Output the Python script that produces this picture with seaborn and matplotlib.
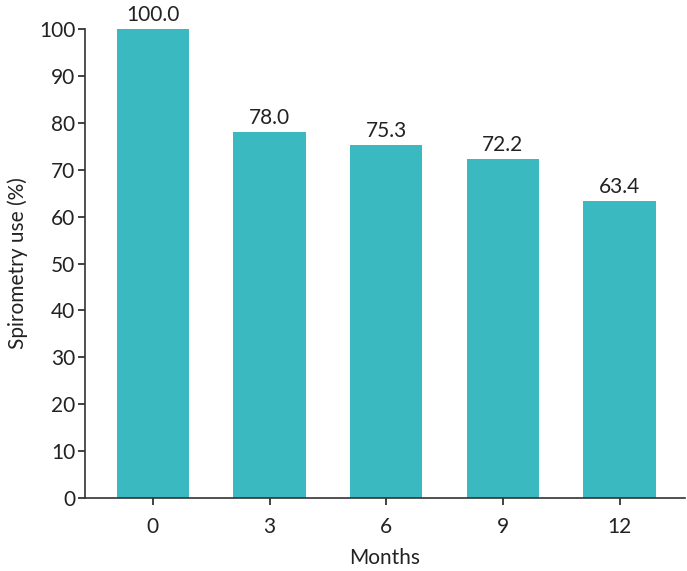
import seaborn as sns
import matplotlib.pyplot as plt
import pandas as pd

months = ["0", "3", "6", "9", "12"]
use_pct = [100.0, 78.0, 75.3, 72.2, 63.4]

df = pd.DataFrame({"Months": months, "use": use_pct})

sns.set_style("ticks")
plt.rcParams["font.family"] = ["Lato", "DejaVu Sans"]

fig = plt.figure(figsize=(6.87, 5.71), dpi=100)
ax = fig.add_axes([0.124, 0.128, 0.873, 0.821])

sns.barplot(data=df, x="Months", y="use", color="#3ab9c1", width=0.62,
            saturation=1, ax=ax, linewidth=0)

for p, v in zip(ax.patches, use_pct):
    ax.annotate(f"{v:.1f}", (p.get_x() + p.get_width() / 2, p.get_height()),
                xytext=(0, 3), textcoords="offset points",
                ha="center", va="bottom", fontsize=15, color="#222222")

ax.set_ylim(0, 100)
ax.set_xlim(-0.58, 4.56)
ax.set_yticks(range(0, 101, 10))
ax.set_xlabel("Months", fontsize=15, color="#222222", labelpad=8)
ax.set_ylabel("Spirometry use (%)", fontsize=15, color="#222222", labelpad=8)
ax.tick_params(labelsize=15, colors="#222222", length=5, width=1.2)
ax.tick_params(axis="x", pad=9)
ax.tick_params(axis="y", pad=2)
for s in ["left", "bottom"]:
    ax.spines[s].set_color("#333333")
    ax.spines[s].set_linewidth(1.2)
sns.despine(ax=ax)

fig.savefig("out.png", dpi=100)
